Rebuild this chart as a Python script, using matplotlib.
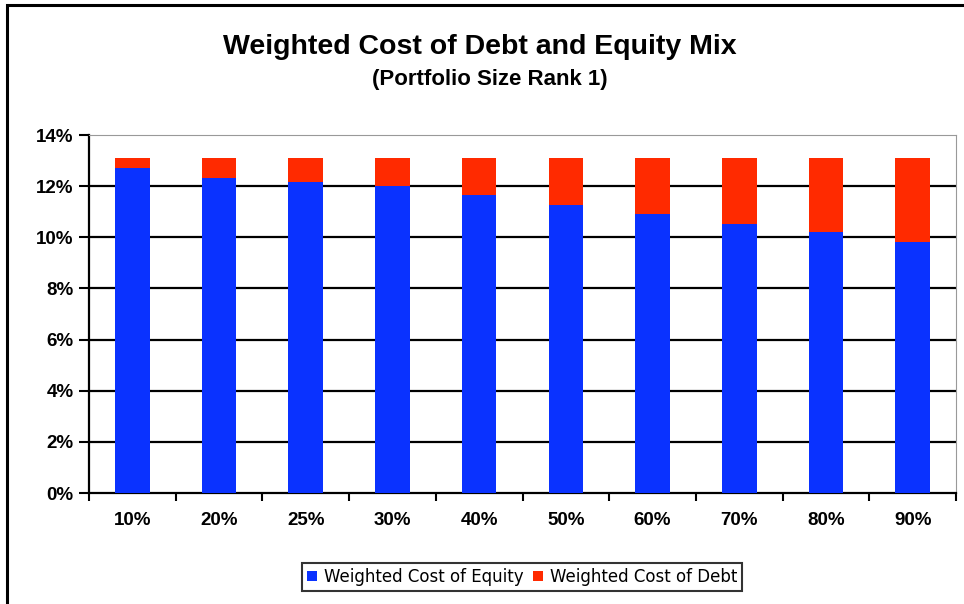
import numpy as np
import matplotlib
matplotlib.use('Agg')
import matplotlib.pyplot as plt
from matplotlib.patches import Rectangle
from matplotlib.ticker import FuncFormatter, MultipleLocator

# debt share in the mix
categories = ['10%', '20%', '25%', '30%', '40%', '50%', '60%', '70%', '80%', '90%']
# weighted cost of equity (%)
equity = [12.71, 12.32, 12.16, 12.01, 11.65, 11.26, 10.92, 10.53, 10.22, 9.83]
# weighted cost of debt (%)
debt = [0.39, 0.78, 0.94, 1.09, 1.45, 1.84, 2.18, 2.57, 2.88, 3.27]

plt.rcParams['font.family'] = ['Liberation Sans', 'DejaVu Sans']

fig = plt.figure(figsize=(9.64, 6.04), dpi=100)
ax = fig.add_axes([89/964, 1 - 493/604, (956 - 89)/964, (493 - 135)/604])

x = np.arange(len(categories))
ax.bar(x, equity, width=0.4, color='#0a32ff', label='Weighted Cost of Equity', zorder=3)
ax.bar(x, debt, width=0.4, bottom=equity, color='#ff2a00', label='Weighted Cost of Debt', zorder=3)

ax.set_xlim(-0.5, len(categories) - 0.5)
ax.set_ylim(0, 14)
ax.yaxis.set_major_locator(MultipleLocator(2))
ax.yaxis.set_major_formatter(FuncFormatter(lambda v, p: '%d%%' % v))
for v in range(2, 14, 2):
    ax.axhline(v, color='black', lw=1.6, zorder=1)

ax.set_xticks(x)
ax.set_xticklabels(categories, fontsize=13.5, fontweight='bold')
ax.set_xticks(np.arange(len(categories) + 1) - 0.5, minor=True)
ax.tick_params(axis='x', which='major', length=0, pad=14)
ax.tick_params(axis='x', which='minor', length=6, width=1.5, direction='out')
ax.tick_params(axis='y', length=7, width=1.5, direction='out', labelsize=13.5, pad=4)
for lab in ax.get_yticklabels():
    lab.set_fontweight('bold')

ax.spines['left'].set_linewidth(1.6)
ax.spines['bottom'].set_linewidth(1.6)
ax.spines['top'].set_color('#999999')
ax.spines['right'].set_color('#999999')

fig.text(480/964, 1 - 47/604, 'Weighted Cost of Debt and Equity Mix',
         ha='center', va='center', fontsize=20.5, fontweight='bold')
fig.text(490/964, 1 - 80/604, '(Portfolio Size Rank 1)',
         ha='center', va='center', fontsize=16, fontweight='bold')

leg = fig.legend(loc='center', bbox_to_anchor=(522/964, 1 - 577/604), ncol=2,
                 frameon=True, fancybox=False, edgecolor='black',
                 prop={'family': 'DejaVu Sans', 'size': 12},
                 handlelength=0.6, handleheight=0.6, handletextpad=0.4,
                 columnspacing=0.6, borderpad=0.3)
leg.get_frame().set_linewidth(1.5)

# outer chart frame
fig.patches.append(Rectangle((7/964, -0.05), 1.1, 1.05 - 5/604, transform=fig.transFigure,
                             fill=False, edgecolor='black', lw=2.2))

fig.savefig('out.png', dpi=100)
